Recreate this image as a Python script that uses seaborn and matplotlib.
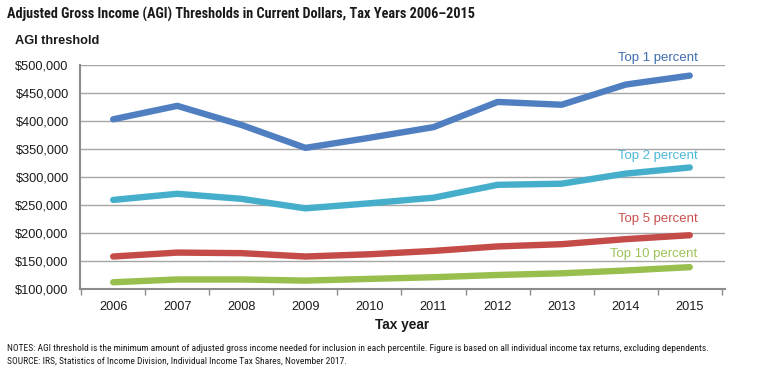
import matplotlib
matplotlib.use("Agg")
import matplotlib.pyplot as plt
import seaborn as sns
import pandas as pd
from matplotlib.ticker import FuncFormatter, FixedLocator
from matplotlib import font_manager

years = [2006, 2007, 2008, 2009, 2010, 2011, 2012, 2013, 2014, 2015]
top1 = [403000, 427000, 393000, 352000, 370000, 389000, 434000, 429000, 465000, 481000]
top2 = [259000, 270000, 261000, 244000, 253000, 263000, 286000, 288000, 306000, 317000]
top5 = [158000, 165000, 164000, 158000, 162000, 168000, 176000, 180000, 189000, 196000]
top10 = [112000, 117000, 117000, 115000, 118000, 121000, 125000, 128000, 133000, 139000]
series_names = ["Top 1 percent", "Top 2 percent", "Top 5 percent", "Top 10 percent"]
colors = ["#4F7FC0", "#45AFCB", "#C44B48", "#98BE4E"]
label_colors = ["#3F6DB0", "#4DB8D6", "#C9504D", "#9CC257"]

sns.set_theme(style="white")
plt.rcParams['font.family'] = ['Liberation Sans', 'DejaVu Sans']

names = sorted({f.name for f in font_manager.fontManager.ttflist})
narrow = None
for cand in ["Liberation Sans Narrow", "Roboto Condensed", "Open Sans Condensed", "DejaVu Sans Condensed"]:
    if cand in names:
        narrow = cand
        break

df = pd.DataFrame({
    "pos": list(range(len(years))) * 4,
    "value": top1 + top2 + top5 + top10,
    "series": sum([[n] * len(years) for n in series_names], []),
})

fig = plt.figure(figsize=(7.68, 3.8), dpi=100)
ax = fig.add_axes([0.104, 0.2395, 0.84, 0.5895])

for y in range(150000, 500001, 50000):
    ax.axhline(y, color="#A6A6A6", lw=1.0, zorder=0)

sns.lineplot(data=df, x="pos", y="value", hue="series", palette=dict(zip(series_names, colors)),
             lw=4.6, ax=ax, legend=False, solid_capstyle="round", solid_joinstyle="round")

ax.set_xlim(-0.52, 9.55)
ax.set_ylim(100000, 500000)
ax.yaxis.set_major_locator(FixedLocator(list(range(100000, 500001, 50000))))
ax.yaxis.set_major_formatter(FuncFormatter(lambda v, p: f"${v:,.0f}"))
ax.set_xticks(range(len(years)))
ax.set_xticklabels([str(y) for y in years])
ax.set_xticks([i - 0.5 for i in range(len(years) + 1)], minor=True)
ax.tick_params(axis="x", which="major", length=0, pad=9, labelsize=9.2, colors="#1a1a1a")
ax.tick_params(axis="x", which="minor", length=4, color="#8c8c8c", width=1, direction="out", bottom=True)
ax.tick_params(axis="y", length=0, pad=8, labelsize=9.2, colors="#1a1a1a")

for s in ["top", "right"]:
    ax.spines[s].set_visible(False)
for s in ["left", "bottom"]:
    ax.spines[s].set_color("#8c8c8c")
    ax.spines[s].set_linewidth(1.5)
ax.set_xlabel("Tax year", fontsize=9.8, fontweight="bold", labelpad=3, color="#1a1a1a")
ax.set_ylabel("")

for name, ly, c in zip(series_names, [502000, 327000, 215000, 151000], label_colors):
    ax.text(9.12, ly, name, color=c, fontsize=9.5, ha="right", va="bottom")

title = "Adjusted Gross Income (AGI) Thresholds in Current Dollars, Tax Years 2006\u20132015"
if narrow:
    fig.text(0.009, 0.962, title, fontsize=10.3, fontweight="bold", family=[narrow, "DejaVu Sans"],
             color="#1a1a1a", va="center")
else:
    fig.text(0.009, 0.962, title, fontsize=10.3, fontweight="bold", fontstretch="condensed",
             family=["DejaVu Sans"], color="#1a1a1a", va="center")
fig.text(0.02, 0.893, "AGI threshold", fontsize=9.2, fontweight="bold", color="#1a1a1a", va="center")
note_family = [narrow, "DejaVu Sans"] if narrow else ["Liberation Sans", "DejaVu Sans"]
note_size = 6.8 if narrow else 5.25
fig.text(0.009, 0.083, "NOTES: AGI threshold is the minimum amount of adjusted gross income needed for inclusion in each percentile. Figure is based on all individual income tax returns, excluding dependents.",
         fontsize=note_size, color="#1a1a1a", va="center", family=note_family)
fig.text(0.009, 0.050, "SOURCE: IRS, Statistics of Income Division, Individual Income Tax Shares, November 2017.",
         fontsize=note_size, color="#1a1a1a", va="center", family=note_family)

fig.savefig("out.png", dpi=100, facecolor="white")
